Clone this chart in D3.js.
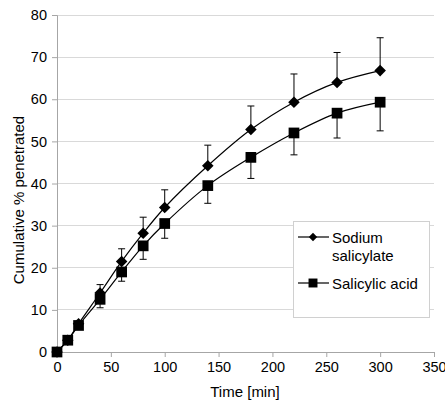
<!DOCTYPE html>
<html>
<head>
<meta charset="utf-8">
<script src="https://cdn.jsdelivr.net/npm/d3@7"></script>
<style>
  body { margin: 0; background: #fff; }
  text { font-family: "Liberation Sans", Arial, sans-serif; fill: #000; }
</style>
</head>
<body>
<div id="chart"></div>
<script>
const times = [0, 10, 20, 40, 60, 80, 100, 140, 180, 220, 260, 300];
const sodiumValues = [0, 2.8, 6.7, 14, 21.5, 28.2, 34.3, 44.2, 52.8, 59.3, 64, 66.8];
const sodiumErr = [0, 0.3, 0.5, 2, 3, 3.8, 4.2, 4.9, 5.6, 6.7, 7.1, 7.8];
const acidValues = [0, 2.8, 6.3, 12.5, 19, 25.2, 30.5, 39.5, 46.2, 52, 56.7, 59.3];
const acidErr = [0, 0.3, 0.5, 2, 2.2, 3.2, 3.5, 4.2, 5, 5.2, 5.9, 6.8];
const xTicks = [0, 50, 100, 150, 200, 250, 300, 350];
const yTicks = [0, 10, 20, 30, 40, 50, 60, 70, 80];
const seriesNames = ["Sodium salicylate", "Salicylic acid"];

const fullW = 445, fullH = 407;
const margin = { top: 15, right: 11, bottom: 55, left: 57 };
const width = fullW - margin.left - margin.right;
const height = fullH - margin.top - margin.bottom;

const svg = d3.select("#chart").append("svg")
    .attr("width", fullW)
    .attr("height", fullH)
  .append("g")
    .attr("transform", `translate(${margin.left},${margin.top})`);

const x = d3.scaleLinear().domain([0, 350]).range([0, width]);
const y = d3.scaleLinear().domain([0, 80]).range([height, 0]);

// gridlines
svg.append("g")
  .selectAll("line")
  .data(yTicks.filter(d => d > 0))
  .join("line")
    .attr("x1", 0)
    .attr("x2", width)
    .attr("y1", d => y(d))
    .attr("y2", d => y(d))
    .attr("stroke", "#d9d9d9")
    .attr("stroke-width", 1)
    .attr("shape-rendering", "crispEdges");

const xAxisG = svg.append("g")
  .attr("transform", `translate(0,${height})`)
  .call(d3.axisBottom(x).tickValues(xTicks).tickSize(5).tickPadding(5));
const yAxisG = svg.append("g")
  .call(d3.axisLeft(y).tickValues(yTicks).tickSize(5).tickPadding(5));

[xAxisG, yAxisG].forEach(g => {
  g.select(".domain").attr("stroke", "#a6a6a6");
  g.selectAll(".tick line").attr("stroke", "#a6a6a6");
  g.selectAll(".tick text")
    .style("font-size", "14.5px")
    .style("font-family", "'Liberation Sans', Arial, sans-serif")
    .attr("fill", "#000");
});

svg.append("text")
  .attr("x", 245 - margin.left)
  .attr("y", height + 45)
  .attr("text-anchor", "middle")
  .style("font-size", "15px")
  .text("Time [min]");

svg.append("text")
  .attr("transform", "rotate(-90)")
  .attr("x", -(200 - margin.top))
  .attr("y", -33)
  .attr("text-anchor", "middle")
  .style("font-size", "15px")
  .text("Cumulative % penetrated");

const line = d3.line()
  .x(d => x(d.t))
  .y(d => y(d.v))
  .curve(d3.curveCatmullRom.alpha(0.5));

const sodium = times.map((t, i) => ({ t, v: sodiumValues[i], e: sodiumErr[i] }));
const acid = times.map((t, i) => ({ t, v: acidValues[i], e: acidErr[i] }));

// error bars: sodium up, acid down
function errorBars(data, dir) {
  const g = svg.append("g").attr("stroke", "#000").attr("stroke-width", 1);
  g.selectAll("line.v")
    .data(data)
    .join("line")
      .attr("x1", d => x(d.t))
      .attr("x2", d => x(d.t))
      .attr("y1", d => y(d.v))
      .attr("y2", d => y(d.v + dir * d.e));
  g.selectAll("line.c")
    .data(data)
    .join("line")
      .attr("x1", d => x(d.t) - 3.5)
      .attr("x2", d => x(d.t) + 3.5)
      .attr("y1", d => y(d.v + dir * d.e))
      .attr("y2", d => y(d.v + dir * d.e));
}
errorBars(sodium, 1);
errorBars(acid, -1);

svg.append("path")
  .datum(sodium)
  .attr("fill", "none")
  .attr("stroke", "#000")
  .attr("stroke-width", 1.2)
  .attr("d", line);

svg.append("path")
  .datum(acid)
  .attr("fill", "none")
  .attr("stroke", "#000")
  .attr("stroke-width", 1.2)
  .attr("d", line);

const diamond = d3.symbol().type(d3.symbolDiamond2).size(85);
const square = d3.symbol().type(d3.symbolSquare).size(115);

svg.append("g")
  .selectAll("path")
  .data(acid)
  .join("path")
    .attr("transform", d => `translate(${x(d.t)},${y(d.v)})`)
    .attr("d", square)
    .attr("fill", "#000");

svg.append("g")
  .selectAll("path")
  .data(sodium)
  .join("path")
    .attr("transform", d => `translate(${x(d.t)},${y(d.v)})`)
    .attr("d", diamond)
    .attr("fill", "#000");

// legend
const lg = svg.append("g").attr("transform", `translate(${293 - margin.left},${221 - margin.top})`);
lg.append("rect")
  .attr("x", 0.5)
  .attr("y", 0.5)
  .attr("width", 136)
  .attr("height", 96)
  .attr("fill", "#fff")
  .attr("stroke", "#d0d0d0");

const legendRows = [
  { name: seriesNames[0], lines: ["Sodium", "salicylate"], cy: 16, sym: d3.symbol().type(d3.symbolDiamond2).size(45) },
  { name: seriesNames[1], lines: ["Salicylic acid"], cy: 62, sym: d3.symbol().type(d3.symbolSquare).size(80) }
];

legendRows.forEach(r => {
  lg.append("line")
    .attr("x1", 5).attr("x2", 36)
    .attr("y1", r.cy).attr("y2", r.cy)
    .attr("stroke", "#000").attr("stroke-width", 1.2);
  lg.append("path")
    .attr("transform", `translate(20,${r.cy})`)
    .attr("d", r.sym)
    .attr("fill", "#000");
  r.lines.forEach((t, i) => {
    lg.append("text")
      .attr("x", 39)
      .attr("y", r.cy + 5.5 + i * 18)
      .style("font-size", "15px")
      .text(t);
  });
});
</script>
</body>
</html>
